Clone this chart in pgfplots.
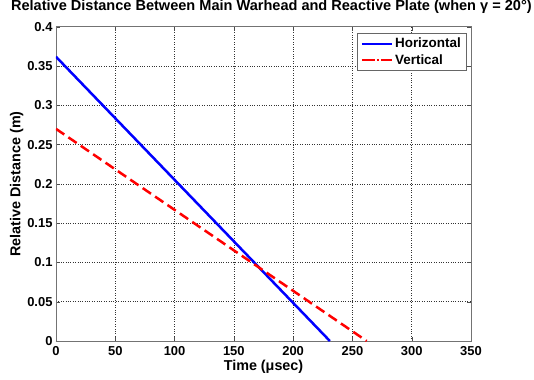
\documentclass[border=0pt]{standalone}
\usepackage{pgfplots}
\pgfplotsset{compat=1.18}
\usepackage{fontspec}
\setmainfont{Liberation Sans}
\begin{document}
\begin{tikzpicture}
\begin{axis}[
 scale only axis, width=415bp, height=314.3bp,
 xmin=0,xmax=350,ymin=0,ymax=0.4,
 xtick={0,50,100,150,200,250,300,350},
 ytick={0,0.05,0.1,0.15,0.2,0.25,0.3,0.35,0.4},
 grid=major, grid style={dotted, black!80, line width=0.5pt},
 tick align=inside, major tick length=4bp,
 axis line style={black!55, line width=0.8pt},
 tick style={black!70},
 scaled y ticks=false,
 yticklabel style={/pgf/number format/fixed, /pgf/number format/precision=2},
 xticklabel style={yshift=-1.5bp},
 /pgf/number format/assume math mode=true,
 ticklabel style={font=\fontsize{13}{13}\selectfont\bfseries},
 xlabel={Time (μsec)}, ylabel={Relative Distance (m)},
 label style={font=\fontsize{14.4}{14.4}\selectfont\bfseries},
 xlabel style={yshift=2bp},
 ylabel style={yshift=-3bp},
 title={Relative Distance Between Main Warhead and Reactive Plate (when γ = 20°)},
 title style={font=\fontsize{14.6}{14.6}\selectfont\bfseries, at={(0.519,1.045)}, anchor=center},
 legend style={at={(0.988,0.98)}, anchor=north east, draw=black!60, row sep=1bp, inner sep=3bp,
   nodes={font=\fontsize{13.5}{13.5}\selectfont\bfseries, anchor=west}},
]
\coordinate (bl) at (rel axis cs:-0.1349,-0.1209);
\coordinate (tr) at (rel axis cs:1.1518,1.085);
\addplot[blue, line width=2.5bp, legend image code/.code={\draw[blue, line width=2.5bp] (0bp,0bp) -- (30bp,0bp);}] coordinates {(0,0.3618) (231,0)};
\addlegendentry{Horizontal}
\addplot[red, line width=2.5bp, dash pattern=on 10bp off 5bp, legend image code/.code={\draw[red, line width=2.5bp, dash pattern=on 13bp off 2bp on 2bp off 2bp] (0bp,0bp) -- (30bp,0bp);}] coordinates {(0,0.27) (262,0)};
\addlegendentry{Vertical}
\end{axis}
\pgfresetboundingbox
\path[use as bounding box] (bl) rectangle (tr);
\end{tikzpicture}
\end{document}
